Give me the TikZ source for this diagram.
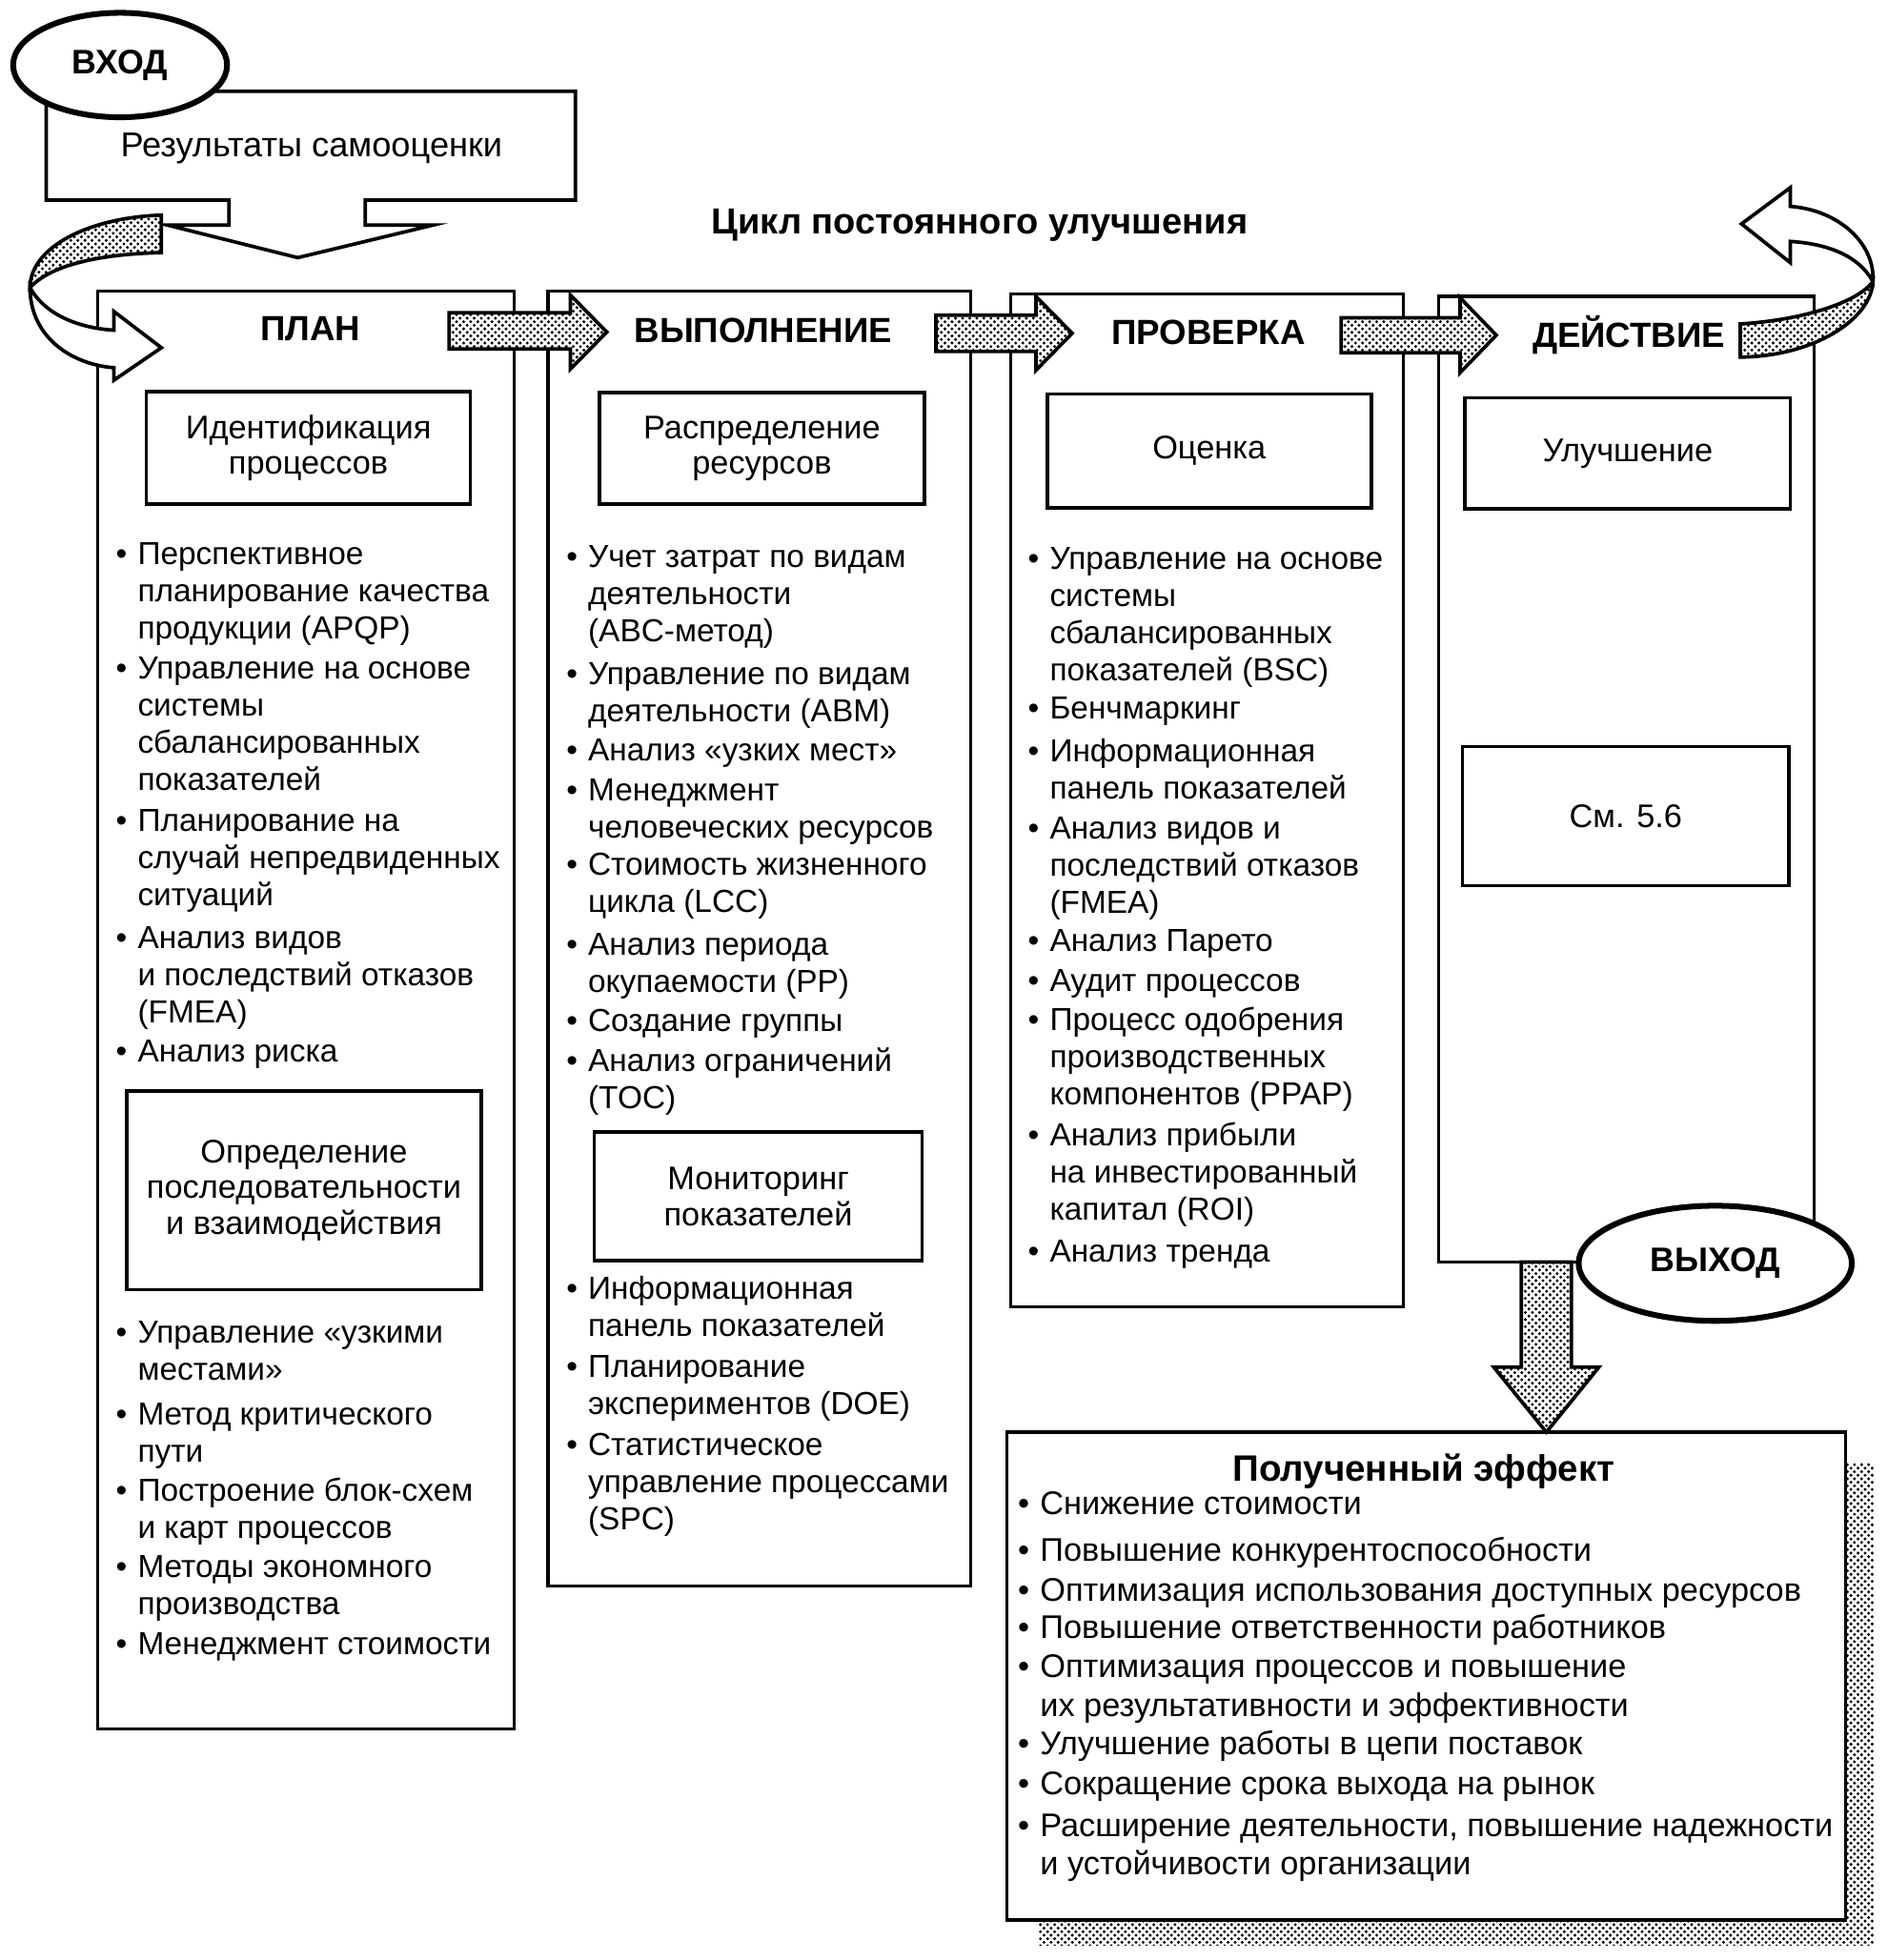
\documentclass[tikz,border=0pt]{standalone}
\usepackage{fontspec}
\setmainfont{Liberation Sans}
\usetikzlibrary{shapes.geometric,patterns}

\newcommand\bodyfont{\fontsize{7.2}{8.4}\selectfont}
\newcommand\boxfont{\fontsize{7.4}{8.1}\selectfont}
\newcommand\efffont{\fontsize{7.4}{8.8}\selectfont}
\newcommand\headfont{\fontsize{7.9}{9}\selectfont\bfseries}
\newcommand\blist[1]{\begin{tabular}[t]{@{}l@{\hspace{2.4pt}}l@{}}#1\end{tabular}}

% fine dot screen
\pgfdeclarepatternformonly{finedots}{\pgfqpoint{-0.4pt}{-0.4pt}}{\pgfqpoint{1.2pt}{1.2pt}}{\pgfqpoint{1.6pt}{1.6pt}}{
  \pgfpathcircle{\pgfqpoint{0pt}{0pt}}{0.36pt}
  \pgfpathcircle{\pgfqpoint{0.8pt}{0.8pt}}{0.36pt}
  \pgfusepath{fill}}

\tikzset{
  frame/.style={draw, line width=0.7pt},
  inbox/.style={draw, line width=0.8pt, fill=white, align=center, font=\boxfont, inner sep=0pt},
  head/.style={font=\headfont},
  bul/.style={anchor=base west, inner sep=0pt, font=\bodyfont},
  effbul/.style={anchor=base west, inner sep=0pt, font=\efffont},
  oval/.style={ellipse, draw, line width=1.3pt, fill=white, inner sep=0pt,
    font=\fontsize{7.7}{9}\selectfont\bfseries},
  dots/.style={pattern=finedots, pattern color=black},
  shade/.style={draw, line width=0.8pt, fill=white, postaction={dots}},
  blank/.style={draw, line width=0.8pt, fill=white},
}

\begin{document}
\begin{tikzpicture}[x=0.0994mm, y=-0.0994mm]
\useasboundingbox (0,0) rectangle (1509,1567);

% columns
\draw[frame] (78,233) rectangle (411,1382);
\draw[frame] (438,233) rectangle (776,1268);
\draw[frame] (808,235) rectangle (1122,1045);
\draw[frame] (1150,237) rectangle (1450,1009);

\node[head] (plan) at (248,263) {ПЛАН};
\node[head] (exec) at (610,264) {ВЫПОЛНЕНИЕ};
\node[head] (check) at (966,266) {ПРОВЕРКА};
\node[head] (act) at (1302,268) {ДЕЙСТВИЕ};

\node[font=\fontsize{8.2}{9}\selectfont\bfseries, anchor=base] (cycle) at (783,187) {Цикл постоянного улучшения};

% PLAN
\node[inbox, minimum width=25.75mm, minimum height=8.95mm] (ident) at (246.5,358) {Идентификация\\процессов};
\node[bul] (p1) at (92,451) {\blist{\textbullet & Перспективное\\ & планирование качества\\ & продукции (APQP)}};
\node[bul] (p2) at (92,543) {\blist{\textbullet & Управление на основе\\ & системы\\ & сбалансированных\\ & показателей}};
\node[bul] (p3) at (92,665) {\blist{\textbullet & Планирование на\\ & случай непредвиденных\\ & ситуаций}};
\node[bul] (p4) at (92,758) {\blist{\textbullet & Анализ видов\\ & и последствий отказов\\ & (FMEA)}};
\node[bul] (p5) at (92,849) {\blist{\textbullet & Анализ риска}};
\node[inbox, minimum width=28.2mm, minimum height=15.8mm] (seq) at (243,951.5) {Определение\\последовательности\\и взаимодействия};
\node[bul] (p6) at (92,1074) {\blist{\textbullet & Управление «узкими\\ & местами»}};
\node[bul] (p7) at (92,1139) {\blist{\textbullet & Метод критического\\ & пути}};
\node[bul] (p8) at (92,1200) {\blist{\textbullet & Построение блок-схем\\ & и карт процессов}};
\node[bul] (p9) at (92,1261) {\blist{\textbullet & Методы экономного\\ & производства}};
\node[bul] (p10) at (92,1323) {\blist{\textbullet & Менеджмент стоимости}};

% EXEC
\node[inbox, minimum width=25.85mm, minimum height=8.85mm] (res) at (609,358.5) {Распределение\\ресурсов};
\node[bul] (e1) at (452,454) {\blist{\textbullet & Учет затрат по видам\\ & деятельности\\ & (ABC-метод)}};
\node[bul] (e2) at (452,547) {\blist{\textbullet & Управление по видам\\ & деятельности (ABM)}};
\node[bul] (e3) at (452,608) {\blist{\textbullet & Анализ «узких мест»}};
\node[bul] (e4) at (452,640) {\blist{\textbullet & Менеджмент\\ & человеческих ресурсов}};
\node[bul] (e5) at (452,700) {\blist{\textbullet & Стоимость жизненного\\ & цикла (LCC)}};
\node[bul] (e6) at (452,764) {\blist{\textbullet & Анализ периода\\ & окупаемости (PP)}};
\node[bul] (e7) at (452,825) {\blist{\textbullet & Создание группы}};
\node[bul] (e8) at (452,857) {\blist{\textbullet & Анализ ограничений\\ & (TOC)}};
\node[inbox, minimum width=26.05mm, minimum height=10.25mm] (mon) at (606,956.5) {Мониторинг\\показателей};
\node[bul] (e9) at (452,1039) {\blist{\textbullet & Информационная\\ & панель показателей}};
\node[bul] (e10) at (452,1101) {\blist{\textbullet & Планирование\\ & экспериментов (DOE)}};
\node[bul] (e11) at (452,1164) {\blist{\textbullet & Статистическое\\ & управление процессами\\ & (SPC)}};

% CHECK
\node[inbox, minimum width=25.75mm, minimum height=9.05mm] (eval) at (966.5,360.5) {Оценка};
\node[bul] (c1) at (821,455) {\blist{\textbullet & Управление на основе\\ & системы\\ & сбалансированных\\ & показателей (BSC)}};
\node[bul] (c2) at (821,575) {\blist{\textbullet & Бенчмаркинг}};
\node[bul] (c3) at (821,609) {\blist{\textbullet & Информационная\\ & панель показателей}};
\node[bul] (c4) at (821,671) {\blist{\textbullet & Анализ видов и\\ & последствий отказов\\ & (FMEA)}};
\node[bul] (c5) at (821,761) {\blist{\textbullet & Анализ Парето}};
\node[bul] (c6) at (821,793) {\blist{\textbullet & Аудит процессов}};
\node[bul] (c7) at (821,824) {\blist{\textbullet & Процесс одобрения\\ & производственных\\ & компонентов (PPAP)}};
\node[bul] (c8) at (821,916) {\blist{\textbullet & Анализ прибыли\\ & на инвестированный\\ & капитал (ROI)}};
\node[bul] (c9) at (821,1009) {\blist{\textbullet & Анализ тренда}};

% ACT
\node[inbox, minimum width=25.85mm, minimum height=8.85mm] (impr) at (1301,362.5) {Улучшение};
\node[inbox, minimum width=25.95mm, minimum height=11.05mm] (see) at (1299.5,652.5) {См. 5.6};

% arrows between stages
\draw[shade] (359,250) -- (456,250) -- (456,236) -- (485,265.5) -- (456,295) -- (456,279) -- (359,279) -- cycle;
\draw[shade] (748,252) -- (828,252) -- (828,237) -- (857,266.5) -- (828,296) -- (828,281) -- (748,281) -- cycle;
\draw[shade] (1072,254) -- (1167,254) -- (1167,238) -- (1196,268) -- (1167,298) -- (1167,282) -- (1072,282) -- cycle;

% input
\draw[blank] (183,160) -- (37,160) -- (37,73) -- (460,73) -- (460,160) -- (292,160) -- (292,180)
  -- (346,180) -- (238,206) -- (134,180) -- (183,180) -- cycle;
\node[font=\fontsize{7.8}{9}\selectfont] (self) at (249,119) {Результаты самооценки};
\node[oval, minimum width=17mm, minimum height=8.3mm] (in) at (96,52) {ВХОД};

% loop arrow into PLAN
\draw[shade] (129,172) .. controls (70,174) and (24,198) .. (24,230)
  .. controls (40,212) and (80,203) .. (129,202) -- cycle;
\draw[blank] (24,230) .. controls (24,268) and (55,291) .. (91,294) -- (91,304) -- (129,278)
  -- (91,249) -- (91,264) .. controls (60,262) and (35,250) .. (24,230) -- cycle;

% loop arrow out of ACT
\draw[shade] (1391,259) .. controls (1440,256) and (1485,242) .. (1497,225)
  .. controls (1496,255) and (1450,285) .. (1391,285.5) -- cycle;
\draw[blank] (1497,225) .. controls (1499,195) and (1470,168) .. (1431,165) -- (1431,150) -- (1392,179)
  -- (1431,210) -- (1431,193) .. controls (1462,195) and (1486,205) .. (1497,225) -- cycle;

% effect
\path[dots] (830,1170) rectangle (1498,1555);
\draw[frame, fill=white] (805,1145) rectangle (1475,1535);
\node[font=\fontsize{8.3}{9}\selectfont\bfseries] (eff) at (1138,1176) {Полученный эффект};
\node[effbul] (r1) at (813,1211) {\blist{\textbullet & Снижение стоимости}};
\node[effbul] (r2) at (813,1248) {\blist{\textbullet & Повышение конкурентоспособности}};
\node[effbul] (r3) at (813,1280) {\blist{\textbullet & Оптимизация использования доступных ресурсов}};
\node[effbul] (r4) at (813,1310) {\blist{\textbullet & Повышение ответственности работников}};
\node[effbul] (r5) at (813,1341) {\blist{\textbullet & Оптимизация процессов и повышение\\ & их результативности и эффективности}};
\node[effbul] (r6) at (813,1403) {\blist{\textbullet & Улучшение работы в цепи поставок}};
\node[effbul] (r7) at (813,1435) {\blist{\textbullet & Сокращение срока выхода на рынок}};
\node[effbul] (r8) at (813,1468) {\blist{\textbullet & Расширение деятельности, повышение надежности\\ & и устойчивости организации}};

% output
\draw[shade] (1216,1009) -- (1216,1093) -- (1194,1093) -- (1236,1145) -- (1278,1093) -- (1256,1093) -- (1256,1009) -- cycle;
\node[oval, minimum width=21.7mm, minimum height=9.15mm] (out) at (1371,1010) {ВЫХОД};
\end{tikzpicture}
\end{document}
